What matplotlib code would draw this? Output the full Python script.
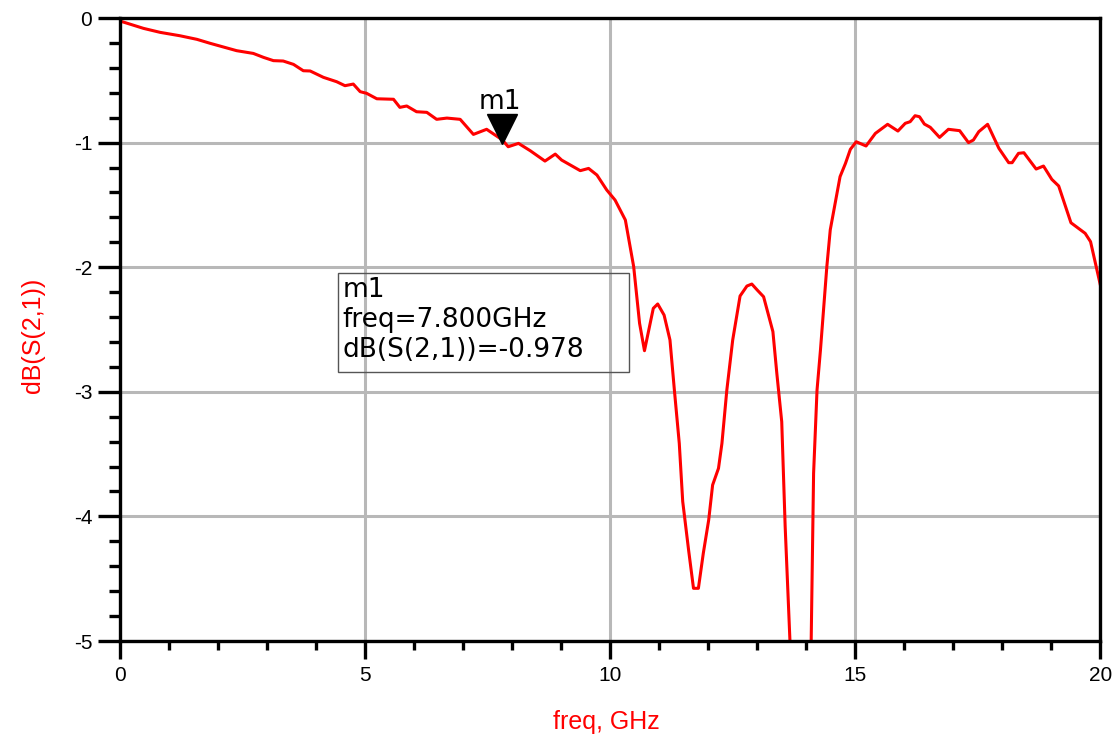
import numpy as np
import matplotlib
matplotlib.use('Agg')
import matplotlib.pyplot as plt
from matplotlib.patches import Rectangle
from matplotlib.transforms import TransformedBbox, Bbox

plt.rcParams['font.family'] = ['Liberation Sans', 'DejaVu Sans']

# S21 trace (GHz, dB)
freq = [0.05, 0.48, 0.82, 1.22, 1.57, 1.84, 2.38, 2.72, 2.93, 3.13, 3.33, 3.54,
        3.74, 3.88, 4.15, 4.42, 4.59, 4.76, 4.90, 5.03, 5.24, 5.58, 5.71, 5.85,
        6.05, 6.26, 6.46, 6.67, 6.94, 7.21, 7.48, 7.80, 7.92, 8.13, 8.37, 8.67,
        8.88, 9.01, 9.39, 9.56, 9.73, 9.93, 10.10, 10.31, 10.48, 10.60, 10.70,
        10.88, 10.97, 11.10, 11.22, 11.31, 11.41, 11.48, 11.60, 11.70, 11.80,
        11.90, 12.01, 12.09, 12.21, 12.28, 12.38, 12.50, 12.65, 12.79, 12.89,
        13.00, 13.13, 13.32, 13.40, 13.50, 13.57, 13.67, 13.90, 14.10, 14.15,
        14.22, 14.29, 14.42, 14.49, 14.69, 14.80, 14.90, 15.02, 15.22, 15.41,
        15.66, 15.87, 16.02, 16.12, 16.22, 16.31, 16.41, 16.53, 16.72, 16.90,
        17.13, 17.31, 17.41, 17.52, 17.70, 17.93, 18.13, 18.20, 18.33, 18.44,
        18.69, 18.84, 19.01, 19.15, 19.40, 19.69, 19.80, 20.00]
s21_db = [-0.03, -0.083, -0.115, -0.142, -0.171, -0.203, -0.262, -0.284, -0.316,
          -0.342, -0.345, -0.372, -0.423, -0.425, -0.476, -0.511, -0.543, -0.53,
          -0.591, -0.604, -0.648, -0.652, -0.717, -0.706, -0.752, -0.757, -0.813,
          -0.803, -0.813, -0.934, -0.893, -0.978, -1.033, -1.006, -1.065, -1.148,
          -1.092, -1.14, -1.225, -1.207, -1.26, -1.38, -1.461, -1.621, -1.996,
          -2.45, -2.67, -2.33, -2.295, -2.384, -2.584, -2.986, -3.414, -3.88,
          -4.27, -4.577, -4.577, -4.296, -4.029, -3.748, -3.614, -3.414, -2.986,
          -2.584, -2.231, -2.151, -2.135, -2.183, -2.237, -2.517, -2.852, -3.24,
          -4.08, -5.02, -9.0, -5.02, -3.654, -2.986, -2.665, -1.996, -1.70,
          -1.273, -1.167, -1.054, -0.993, -1.027, -0.926, -0.853, -0.907, -0.845,
          -0.832, -0.784, -0.792, -0.851, -0.877, -0.958, -0.893, -0.904, -1.0,
          -0.979, -0.912, -0.853, -1.046, -1.161, -1.161, -1.086, -1.081, -1.212,
          -1.188, -1.295, -1.348, -1.643, -1.728, -1.795, -2.143]

marker_freq = 7.8
marker_db = -0.978
marker_lines = ['m1', 'freq=7.800GHz', 'dB(S(2,1))=-0.978']

x_ticks = [0, 5, 10, 15, 20]
y_ticks = [0, -1, -2, -3, -4, -5]

fig = plt.figure(figsize=(11.17, 7.39), dpi=100)
ax = fig.add_axes([0.1074, 0.1326, 0.8777, 0.8430])

ax.plot(freq, s21_db, color='#ff0000', lw=2.2, zorder=3)

ax.set_xlim(0, 20)
ax.set_ylim(-5, 0)
ax.set_xticks(x_ticks)
ax.set_yticks(y_ticks)
ax.set_xticks(np.arange(0, 20.01, 1), minor=True)
ax.set_yticks(np.arange(-5, 0.01, 0.2), minor=True)
ax.set_xticklabels([str(t) for t in x_ticks])
ax.set_yticklabels([str(t) for t in y_ticks])

ax.grid(True, which='major', color='#b8b8b8', lw=2.2, zorder=1)
for sp in ax.spines.values():
    sp.set_linewidth(2.4)
    sp.set_color('black')
    sp.set_zorder(4)

ax.tick_params(which='both', direction='out', width=2.4, labelsize=15, colors='black')
ax.tick_params(axis='x', which='major', length=13, pad=5)
ax.tick_params(axis='x', which='minor', length=6.5)
ax.tick_params(axis='y', which='major', length=16, pad=4)
ax.tick_params(axis='y', which='minor', length=8)

ax.set_xlabel('freq, GHz', color='red', fontsize=18)
ax.xaxis.set_label_coords(0.496, -0.130)
ax.xaxis.label.set_va('center')
ax.set_ylabel('dB(S(2,1))', color='red', fontsize=18)
ax.yaxis.set_label_coords(-0.0888, 0.491)
ax.yaxis.label.set_va('center')

# marker m1
ax.plot([marker_freq], [marker_db + 0.085], marker='v', color='black',
        markersize=22, zorder=5, clip_on=False)
ax.text(marker_freq - 0.05, marker_db + 0.2, 'm1', fontsize=19,
        family='DejaVu Sans', ha='center', va='bottom', zorder=5)

# marker readout box
box = Rectangle((0.2224, 0.4318), 0.2970, 0.1589, transform=ax.transAxes,
                fill=False, edgecolor='#555555', lw=1.0, zorder=5)
ax.add_patch(box)
clip = TransformedBbox(Bbox([[0.2224, 0.4318], [0.5194, 0.5907]]), ax.transAxes)
line_y = [0.563, 0.515, 0.467]
for txt, yy in zip(marker_lines, line_y):
    t = ax.text(0.227, yy, txt, transform=ax.transAxes, fontsize=19,
                family='DejaVu Sans', ha='left', va='center', zorder=6)
    t.set_clip_box(clip)
    t.set_clip_on(True)

fig.savefig('out.png', dpi=100)
